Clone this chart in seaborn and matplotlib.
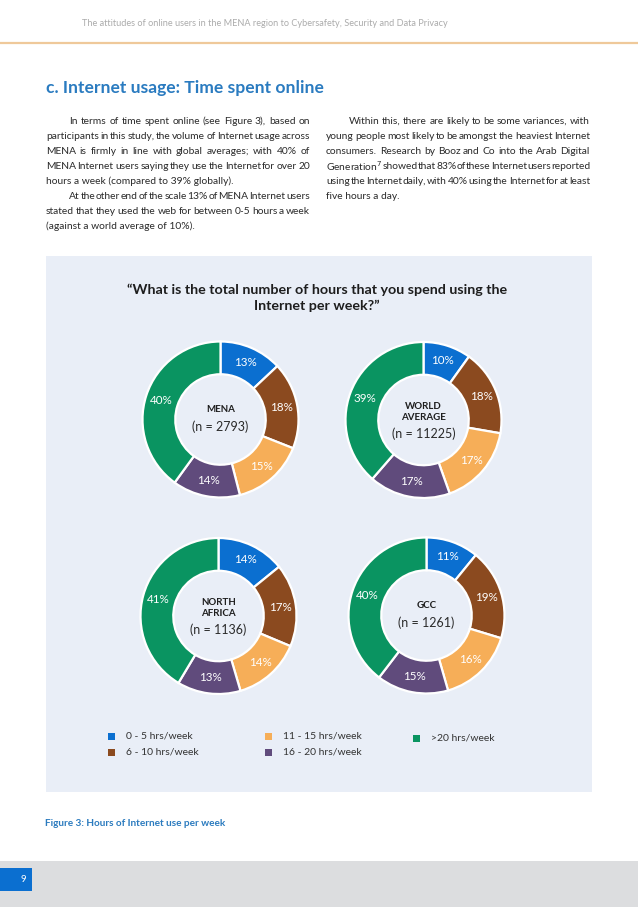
import matplotlib
matplotlib.use("Agg")
import numpy as np
import pandas as pd
import seaborn as sns
import matplotlib.pyplot as plt
from matplotlib.patches import Rectangle

# ---- data ----
categories = ["0 - 5 hrs/week", "6 - 10 hrs/week", "11 - 15 hrs/week",
              "16 - 20 hrs/week", ">20 hrs/week"]
region_names = ["MENA", "WORLD\nAVERAGE", "NORTH\nAFRICA", "GCC"]
sample_sizes = [2793, 11225, 1136, 1261]
mena = [13, 18, 15, 14, 40]
world_average = [10, 18, 17, 17, 39]
north_africa = [14, 17, 14, 13, 41]
gcc = [11, 19, 16, 15, 40]

df = pd.DataFrame({"MENA": mena, "WORLD\nAVERAGE": world_average,
                   "NORTH\nAFRICA": north_africa, "GCC": gcc}, index=categories)

header = "The attitudes of online users in the MENA region to Cybersafety, Security and Data Privacy"
heading = "c. Internet usage: Time spent online"
left_text = [
    ["In terms of time spent online (see Figure 3), based on",
     "participants in this study, the volume of Internet usage across",
     "MENA is firmly in line with global averages; with 40% of",
     "MENA Internet users saying they use the Internet for over 20",
     "hours a week (compared to 39% globally)."],
    ["At the other end of the scale 13% of MENA Internet users",
     "stated that they used the web for between 0-5 hours a week",
     "(against a world average of 10%)."],
]
right_text = [
    ["Within this, there are likely to be some variances, with",
     "young people most likely to be amongst the heaviest Internet",
     "consumers. Research by Booz and Co into the Arab Digital",
     "Generation$^{7}$ showed that 83% of these Internet users reported",
     "using the Internet daily, with 40% using the Internet for at least",
     "five hours a day."],
]
chart_title = "\u201cWhat is the total number of hours that you spend using the\nInternet per week?\u201d"
caption = "Figure 3: Hours of Internet use per week"
page_number = "9"

# ---- style ----
sns.set_theme(style="white")
plt.rcParams["font.family"] = ["Lato", "DejaVu Sans"]
colors = sns.color_palette(["#0B6FD0", "#8B4A1F", "#F6AE58", "#604B7C", "#0A9461"])

W, H = 638, 907
fig = plt.figure(figsize=(W / 100, H / 100), dpi=100)
fig.patch.set_facecolor("white")

# full page axes in pixel units
page = fig.add_axes([0, 0, 1, 1])
page.set_xlim(0, W)
page.set_ylim(H, 0)
page.axis("off")
renderer = fig.canvas.get_renderer()

# header
page.text(265, 24, header, ha="center", va="center", fontsize=6.6, color="#ababab")
page.plot([0, W], [43, 43], color="#EFC99A", lw=1.6, solid_capstyle="butt")

# heading
page.text(46, 88, heading, ha="left", va="center", fontsize=12.6, color="#2A7BC0",
          fontweight="bold")

body = dict(fontsize=7.4, color="#2a2a2a", va="center", ha="left")


def put_paragraphs(paragraphs, x0, x1, y, indent=23, step=15.1):
    for lines in paragraphs:
        for i, line in enumerate(lines):
            start = x0 + (indent if i == 0 else 0)
            if i == len(lines) - 1:
                page.text(start, y, line, **body)
            else:
                words = line.split(" ")
                texts = [page.text(0, y, w, **body) for w in words]
                widths = [t.get_window_extent(renderer).width for t in texts]
                gap = (x1 - start - sum(widths)) / (len(words) - 1)
                x = start
                for t, w in zip(texts, widths):
                    t.set_x(x)
                    x += w + gap
            y += step
    return y


put_paragraphs(left_text, 46, 310, 121)
put_paragraphs(right_text, 326, 590, 121)

# chart panel
page.add_patch(Rectangle((46, 256), 546, 536, facecolor="#E9EEF7", edgecolor="none"))
page.text(317, 298, chart_title, ha="center", va="center", fontsize=10.3,
          color="#1e1e1e", fontweight="bold", linespacing=1.35)

# donuts
centers = [(220.5, 419.5), (423.5, 420), (218.5, 616), (426.5, 615.5)]
R = 78
lim = 1.05
side = 2 * R * lim
for name, n, (cx, cy) in zip(region_names, sample_sizes, centers):
    ax = fig.add_axes([(cx - side / 2) / W, 1 - (cy + side / 2) / H, side / W, side / H])
    vals = df[name].tolist()
    it = iter(vals)
    ax.pie(vals, colors=colors, startangle=90, counterclock=False, radius=1,
           autopct=lambda p: f"{next(it)}%", pctdistance=0.8,
           wedgeprops=dict(width=0.42, edgecolor="white", linewidth=1.6),
           textprops=dict(color="white", fontsize=8.4))
    ax.set_xlim(-lim, lim)
    ax.set_ylim(-lim, lim)
    ax.set_aspect("equal")
    ax.axis("off")
    ax.patch.set_alpha(0)
    nlines = name.count("\n") + 1
    if nlines == 1:
        ax.text(0, 0.13, name, ha="center", va="center", fontsize=7, fontweight="bold",
                color="#1e1e1e")
        ax.text(0, -0.09, f"(n = {n})", ha="center", va="center", fontsize=9,
                color="#2a2a2a")
    else:
        ax.text(0, 0.1, name, ha="center", va="center", fontsize=7, fontweight="bold",
                color="#1e1e1e", linespacing=1.25)
        ax.text(0, -0.17, f"(n = {n})", ha="center", va="center", fontsize=9,
                color="#2a2a2a")

# legend
legend_pos = [(111, 736), (111, 752), (268, 736), (268, 752), (416, 738)]
for (lx, ly), cat, col in zip(legend_pos, categories, colors):
    page.add_patch(Rectangle((lx - 3.5, ly - 3.5), 7, 7, facecolor=col, edgecolor="none"))
    page.text(lx + 15, ly, cat, ha="left", va="center", fontsize=7.5, color="#333333")

# caption
page.text(45, 824, caption, ha="left", va="center", fontsize=7.2, color="#2B7BBF",
          fontweight="bold")

# footer
page.add_patch(Rectangle((0, 861), W, 46, facecolor="#DCDDDF", edgecolor="none"))
page.add_patch(Rectangle((0, 868), 32, 23, facecolor="#0B6FD0", edgecolor="none"))
page.text(23, 880, page_number, ha="center", va="center", fontsize=7, color="white")

fig.savefig("out.png", dpi=100, facecolor="white")
